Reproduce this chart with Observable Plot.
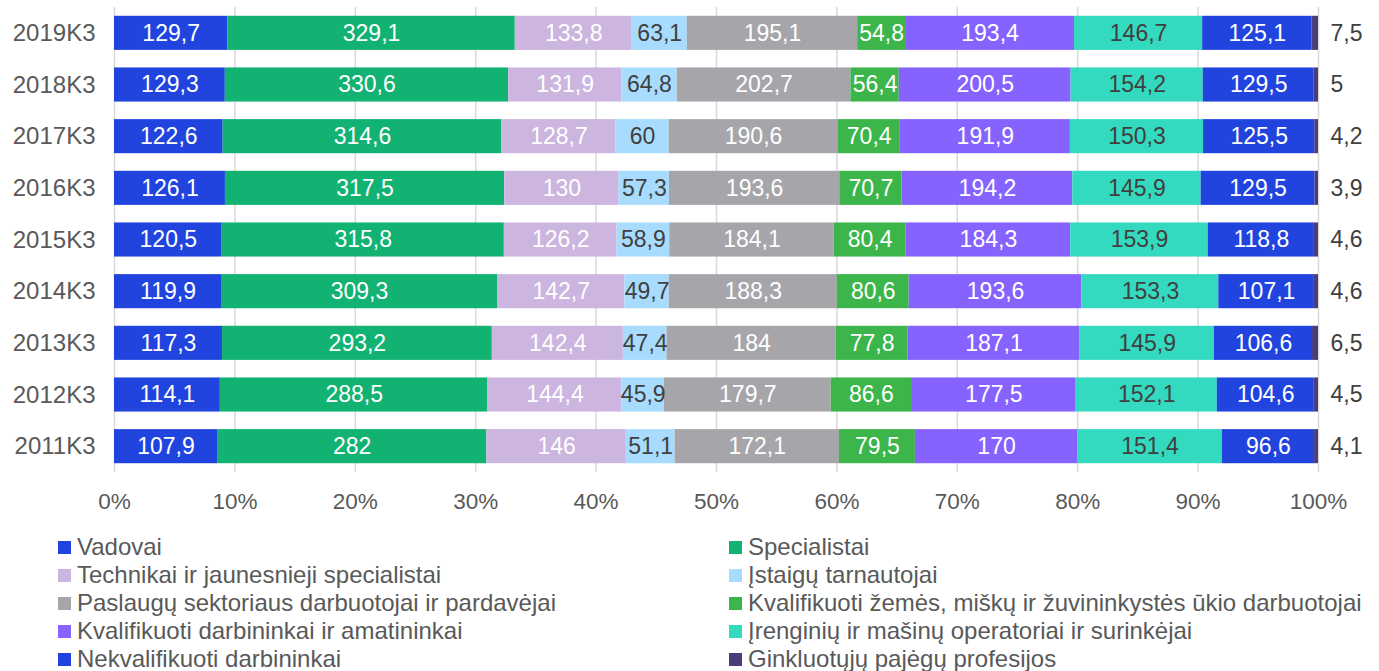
<!DOCTYPE html>
<html>
<head>
<meta charset="utf-8">
<script src="https://cdn.jsdelivr.net/npm/d3@7"></script>
<script src="https://cdn.jsdelivr.net/npm/@observablehq/plot@0.6"></script>
<style>
  body { margin: 0; background: #fff; font-family: "Liberation Sans", Arial, sans-serif; }
  #legend { display: grid; grid-template-columns: 671px auto; padding-left: 58px; margin-top: 13px; }
  .item { display: flex; align-items: center; height: 28px; font-size: 24px; color: #595959; white-space: nowrap; }
  .sw { width: 13px; height: 13px; margin-right: 6px; flex: none; }
</style>
</head>
<body>
<div id="chart"></div>
<div id="legend"></div>
<script>
const years = ["2019K3","2018K3","2017K3","2016K3","2015K3","2014K3","2013K3","2012K3","2011K3"];
const categories = [
  "Vadovai",
  "Specialistai",
  "Technikai ir jaunesnieji specialistai",
  "Įstaigų tarnautojai",
  "Paslaugų sektoriaus darbuotojai ir pardavėjai",
  "Kvalifikuoti žemės, miškų ir žuvininkystės ūkio darbuotojai",
  "Kvalifikuoti darbininkai ir amatininkai",
  "Įrenginių ir mašinų operatoriai ir surinkėjai",
  "Nekvalifikuoti darbininkai",
  "Ginkluotųjų pajėgų profesijos"
];
const colors = ["#2144DF","#12B273","#CCB5DF","#A8DCFE","#A6A6AA","#3CB54B","#8663FE","#34DABF","#2144DF","#4A3D7C"];
const darkLabelCats = ["Įstaigų tarnautojai","Įrenginių ir mašinų operatoriai ir surinkėjai"];
const outsideCat = "Ginkluotųjų pajėgų profesijos";

const v2019 = [129.7,329.1,133.8,63.1,195.1,54.8,193.4,146.7,125.1,7.5];
const v2018 = [129.3,330.6,131.9,64.8,202.7,56.4,200.5,154.2,129.5,5];
const v2017 = [122.6,314.6,128.7,60,190.6,70.4,191.9,150.3,125.5,4.2];
const v2016 = [126.1,317.5,130,57.3,193.6,70.7,194.2,145.9,129.5,3.9];
const v2015 = [120.5,315.8,126.2,58.9,184.1,80.4,184.3,153.9,118.8,4.6];
const v2014 = [119.9,309.3,142.7,49.7,188.3,80.6,193.6,153.3,107.1,4.6];
const v2013 = [117.3,293.2,142.4,47.4,184,77.8,187.1,145.9,106.6,6.5];
const v2012 = [114.1,288.5,144.4,45.9,179.7,86.6,177.5,152.1,104.6,4.5];
const v2011 = [107.9,282,146,51.1,172.1,79.5,170,151.4,96.6,4.1];
const series = [v2019,v2018,v2017,v2016,v2015,v2014,v2013,v2012,v2011];

const data = [];
years.forEach((y, i) => categories.forEach((c, j) => data.push({year: y, cat: c, value: series[i][j]})));
const fmt = v => String(v).replace(".", ",");

const stackOpts = {x: "value", y: "year", z: "cat", offset: "normalize"};

const chart = Plot.plot({
  width: 1379,
  height: 520,
  marginLeft: 114,
  marginRight: 61,
  marginTop: 7,
  marginBottom: 48,
  style: {fontFamily: "'Liberation Sans', Arial, sans-serif", fontSize: "23px", color: "#595959", background: "#fff"},
  x: {domain: [0, 1]},
  y: {domain: years, paddingInner: 0.34, paddingOuter: 0.17, round: false},
  color: {domain: categories, range: colors},
  marks: [
    Plot.gridX({ticks: 10, stroke: "#D9D9D9", strokeOpacity: 1, strokeWidth: 1.5}),
    Plot.barX(data, {...stackOpts, fill: "cat"}),
    Plot.text(data, Plot.stackX({...stackOpts,
      text: d => (darkLabelCats.includes(d.cat) || d.cat === outsideCat) ? "" : fmt(d.value),
      fill: "white", fontSize: 23})),
    Plot.text(data, Plot.stackX({...stackOpts,
      text: d => darkLabelCats.includes(d.cat) ? fmt(d.value) : "",
      fill: "#404040", fontSize: 23})),
    Plot.text(data, Plot.stackX2({...stackOpts,
      text: d => d.cat === outsideCat ? fmt(d.value) : "",
      fill: "#404040", fontSize: 23, textAnchor: "start", dx: 12})),
    Plot.axisX({ticks: 10, tickSize: 0, tickPadding: 21, fontSize: 22.5, tickFormat: d => Math.round(d * 100) + "%", label: null}),
    Plot.axisY({tickSize: 0, tickPadding: 19, fontSize: 24, label: null})
  ]
});
document.getElementById("chart").appendChild(chart);

const legend = document.getElementById("legend");
categories.forEach((c, j) => {
  const it = document.createElement("div");
  it.className = "item";
  const sw = document.createElement("span");
  sw.className = "sw";
  sw.style.background = colors[j];
  const t = document.createElement("span");
  t.textContent = c;
  it.appendChild(sw);
  it.appendChild(t);
  legend.appendChild(it);
});
</script>
</body>
</html>
